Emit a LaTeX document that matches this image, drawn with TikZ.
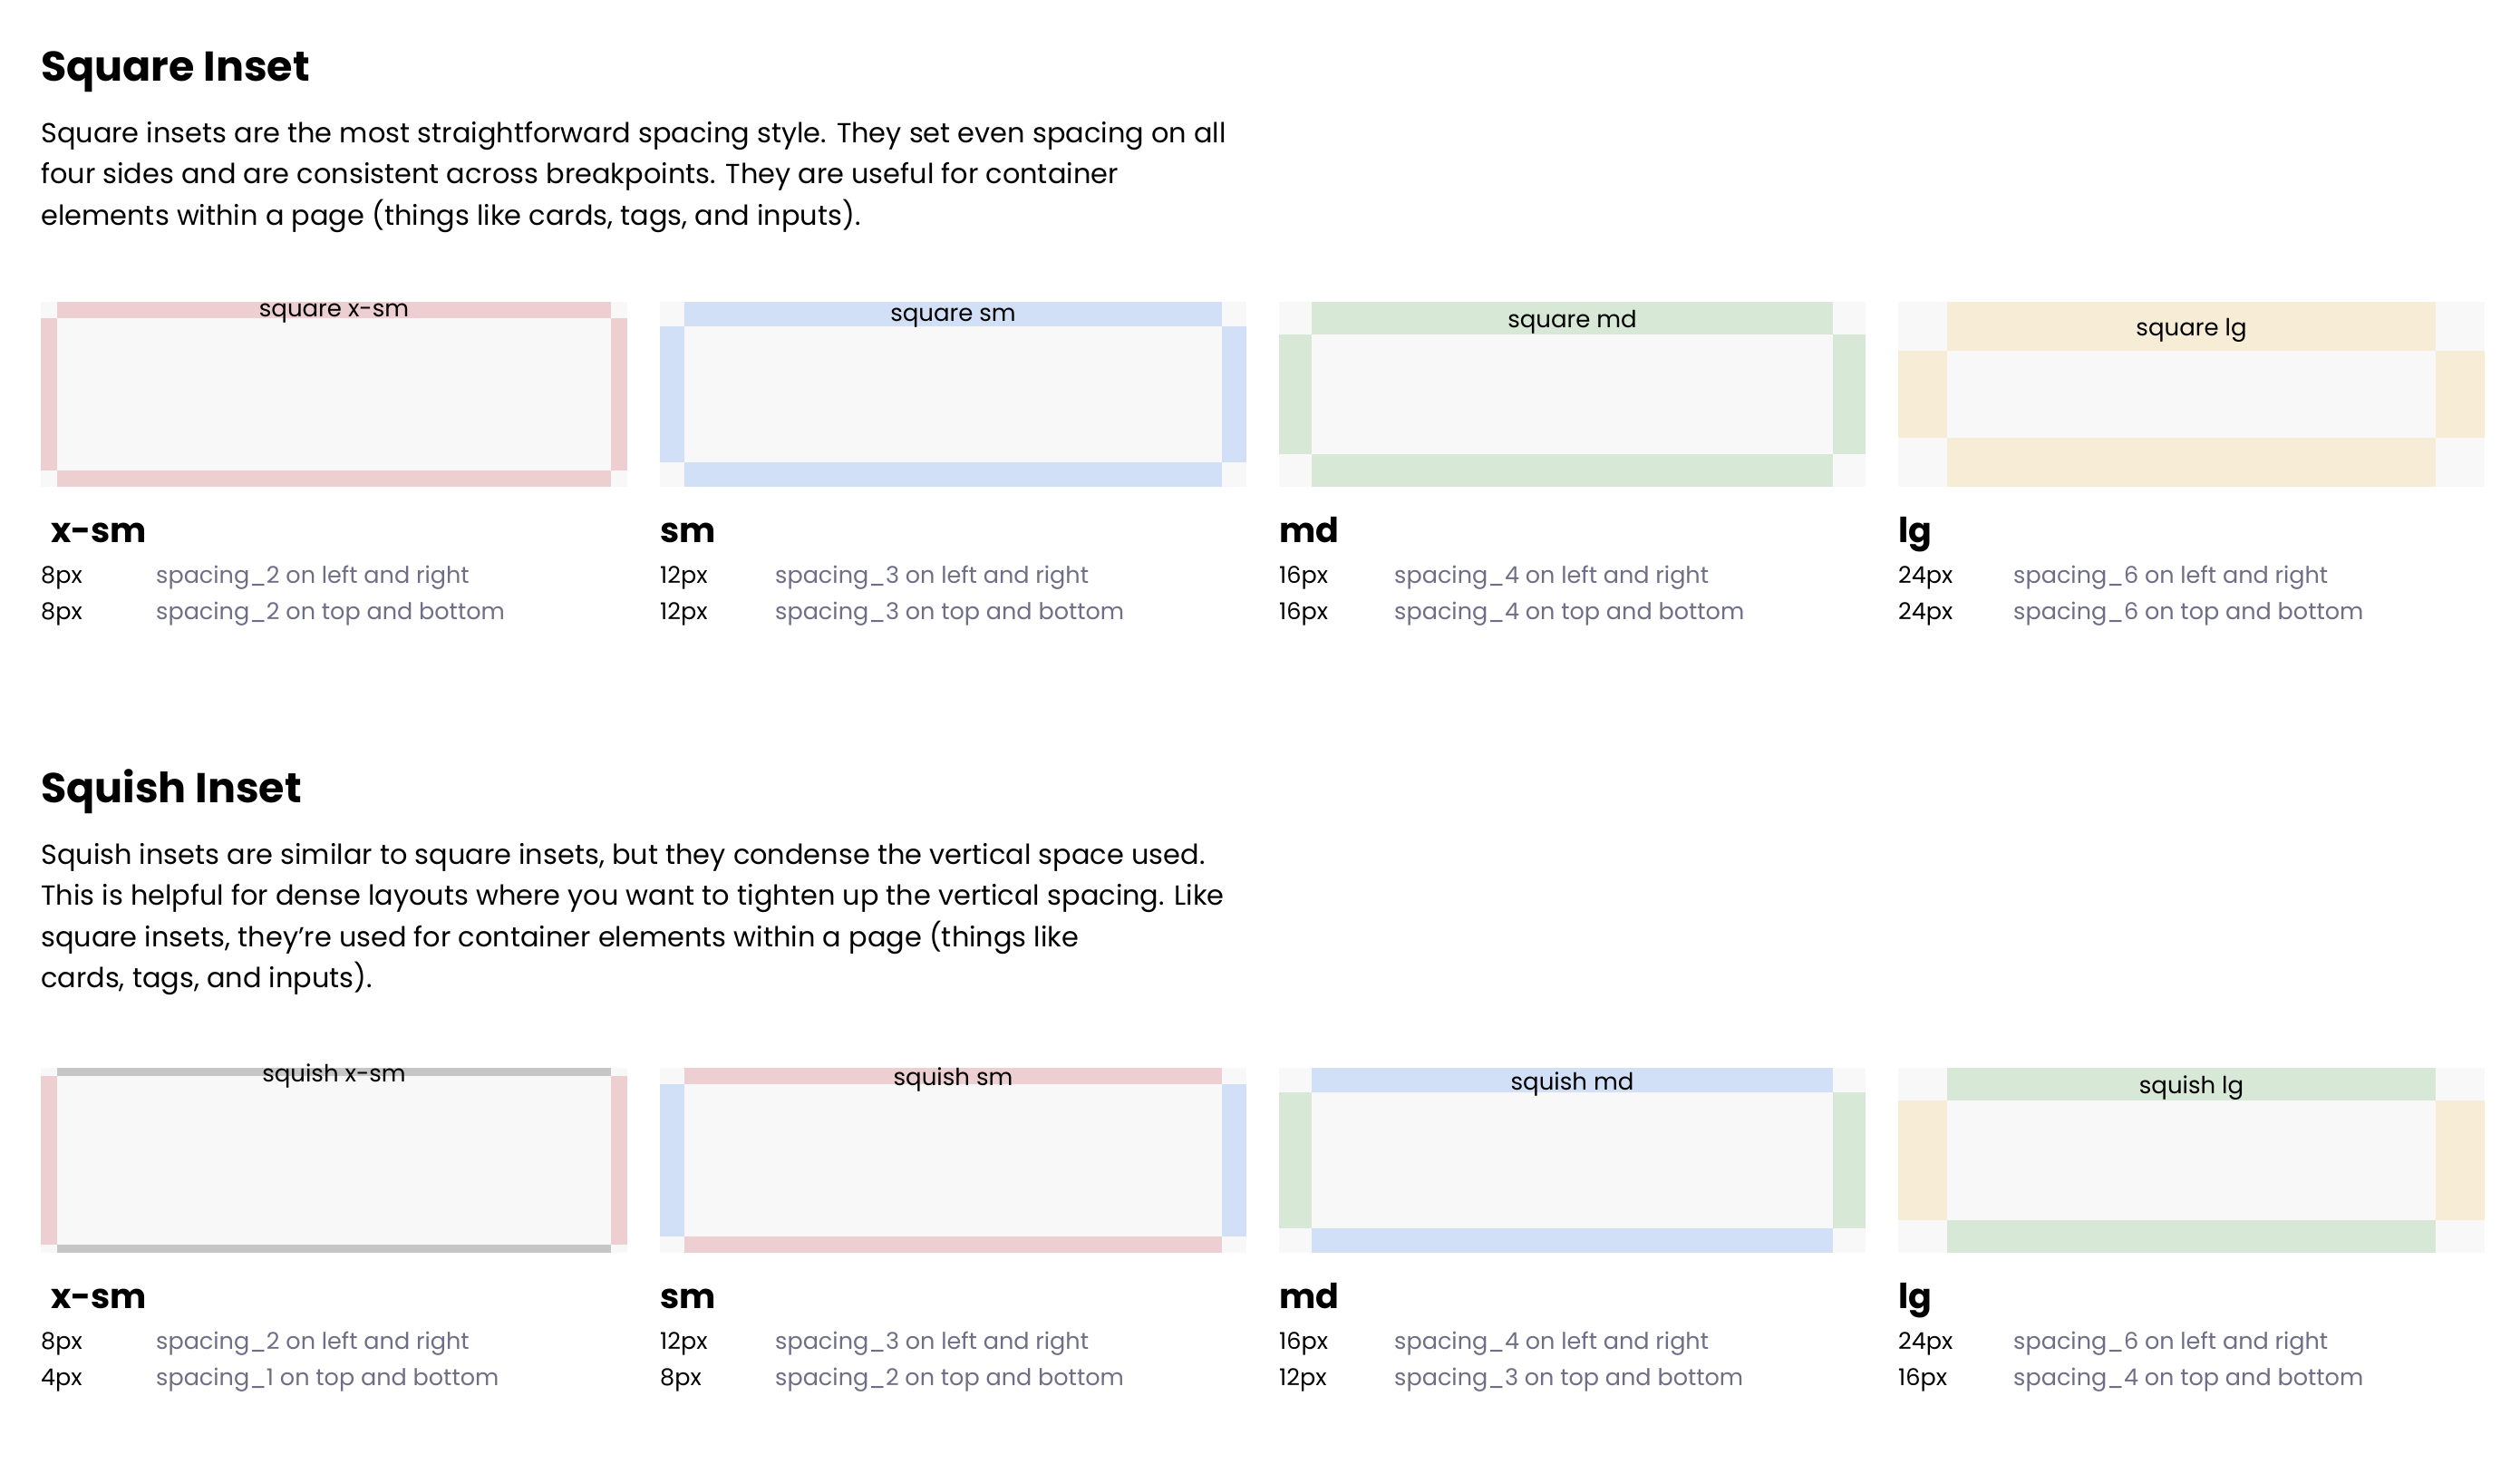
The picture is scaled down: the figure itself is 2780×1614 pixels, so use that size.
\documentclass[tikz,border=0pt]{standalone}
\usepackage{fontspec}
\setmainfont{Poppins}
\definecolor{bgc}{HTML}{F8F8F8}
\definecolor{pinkc}{HTML}{EDCFD1}
\definecolor{bluec}{HTML}{D1E0F7}
\definecolor{greenc}{HTML}{D8E8D6}
\definecolor{yellowc}{HTML}{F7EDD7}
\definecolor{grayc}{HTML}{C6C6C6}
\definecolor{descc}{HTML}{6F6E87}
\tikzset{
  txt/.style={inner sep=0pt, anchor=base west},
  sechead/.style={txt, font=\fontsize{46}{55}\selectfont\bfseries},
  para/.style={txt, font=\fontsize{30.4}{45}\selectfont},
  boxlabel/.style={inner sep=0pt, anchor=center, font=\fontsize{26}{30}\selectfont},
  sizehead/.style={txt, font=\fontsize{38}{46}\selectfont\bfseries},
  valtxt/.style={txt, font=\fontsize{25.5}{30}\selectfont},
  desctxt/.style={txt, text=descc, font=\fontsize{25.5}{30}\selectfont},
}
\newcommand\insetbox[6]{%
  \fill[bgc] (0,0) rectangle (647,204);
  \fill[#4] (0,#3) rectangle (#2,{204-#3});
  \fill[#4] ({647-#2},#3) rectangle (647,{204-#3});
  \fill[#5] (#2,0) rectangle ({647-#2},#3);
  \fill[#5] (#2,{204-#3}) rectangle ({647-#2},204);
  \node[boxlabel] (#1) at (323.5,{#3/2+4}) {#6};
}
\newcommand\insetinfo[6]{%
  \node[sizehead] (#1h) at (#2,265) {#3};
  \node[valtxt] (#1va) at (0,310) {#4};
  \node[valtxt] (#1vb) at (0,350) {#5};
  \node[desctxt] (#1da) at (127,310) {#6};
}
\newcommand\insetdesc[2]{%
  \node[desctxt] (#1db) at (127,350) {#2};
}
\begin{document}
\begin{tikzpicture}[x=1pt,y=-1pt]
\useasboundingbox (0,0) rectangle (2780,1614);
\fill[white] (0,0) rectangle (2780,1614);

% ---------- Square Inset ----------
\node[sechead] (sqhead) at (45,89) {Square Inset};
\node[para] (sqp1) at (45,157) {Square insets are the most straightforward spacing style. They set even spacing on all};
\node[para] (sqp2) at (45,202.5) {four sides and are consistent across breakpoints. They are useful for container};
\node[para] (sqp3) at (45,248) {elements within a page (things like cards, tags, and inputs).};

\begin{scope}[shift={(45,333)}]
  \insetbox{sqxs}{18}{18}{pinkc}{pinkc}{square x-sm}
  \insetinfo{sqxs}{11}{x-sm}{8px}{8px}{spacing\_2 on left and right}
  \insetdesc{sqxs}{spacing\_2 on top and bottom}
\end{scope}
\begin{scope}[shift={(728,333)}]
  \insetbox{sqsm}{27}{27}{bluec}{bluec}{square sm}
  \insetinfo{sqsm}{0}{sm}{12px}{12px}{spacing\_3 on left and right}
  \insetdesc{sqsm}{spacing\_3 on top and bottom}
\end{scope}
\begin{scope}[shift={(1411,333)}]
  \insetbox{sqmd}{36}{36}{greenc}{greenc}{square md}
  \insetinfo{sqmd}{0}{md}{16px}{16px}{spacing\_4 on left and right}
  \insetdesc{sqmd}{spacing\_4 on top and bottom}
\end{scope}
\begin{scope}[shift={(2094,333)}]
  \insetbox{sqlg}{54}{54}{yellowc}{yellowc}{square lg}
  \insetinfo{sqlg}{0}{lg}{24px}{24px}{spacing\_6 on left and right}
  \insetdesc{sqlg}{spacing\_6 on top and bottom}
\end{scope}

% ---------- Squish Inset ----------
\node[sechead] (sqshead) at (45,885) {Squish Inset};
\node[para] (sqsp1) at (45,953) {Squish insets are similar to square insets, but they condense the vertical space used.};
\node[para] (sqsp2) at (45,998.5) {This is helpful for dense layouts where you want to tighten up the vertical spacing. Like};
\node[para] (sqsp3) at (45,1044) {square insets, they’re used for container elements within a page (things like};
\node[para] (sqsp4) at (45,1089.5) {cards, tags, and inputs).};

\begin{scope}[shift={(45,1178)}]
  \insetbox{shxs}{18}{9}{pinkc}{grayc}{squish x-sm}
  \insetinfo{shxs}{11}{x-sm}{8px}{4px}{spacing\_2 on left and right}
  \insetdesc{shxs}{spacing\_1 on top and bottom}
\end{scope}
\begin{scope}[shift={(728,1178)}]
  \insetbox{shsm}{27}{18}{bluec}{pinkc}{squish sm}
  \insetinfo{shsm}{0}{sm}{12px}{8px}{spacing\_3 on left and right}
  \insetdesc{shsm}{spacing\_2 on top and bottom}
\end{scope}
\begin{scope}[shift={(1411,1178)}]
  \insetbox{shmd}{36}{27}{greenc}{bluec}{squish md}
  \insetinfo{shmd}{0}{md}{16px}{12px}{spacing\_4 on left and right}
  \insetdesc{shmd}{spacing\_3 on top and bottom}
\end{scope}
\begin{scope}[shift={(2094,1178)}]
  \insetbox{shlg}{54}{36}{yellowc}{greenc}{squish lg}
  \insetinfo{shlg}{0}{lg}{24px}{16px}{spacing\_6 on left and right}
  \insetdesc{shlg}{spacing\_4 on top and bottom}
\end{scope}
\end{tikzpicture}
\end{document}
